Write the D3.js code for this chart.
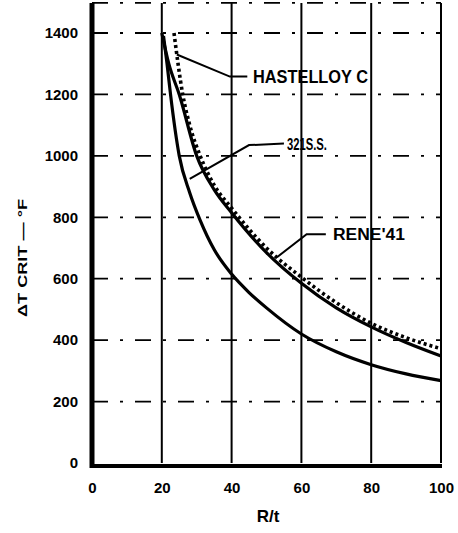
<!DOCTYPE html>
<html>
<head>
<meta charset="utf-8">
<script src="https://cdn.jsdelivr.net/npm/d3@7"></script>
<style>
  body { margin: 0; background: #fff; }
  svg { display: block; }
  .tick-label { font-family: "Liberation Sans", Arial, sans-serif; font-weight: bold; }
</style>
</head>
<body>
<script>
// Data
const xTicks = [0, 20, 40, 60, 80, 100];
const yTicks = [0, 200, 400, 600, 800, 1000, 1200, 1400];

const ss321 = [[20.5, 1390], [21.5, 1300], [22.5, 1200], [25, 1000], [28, 880], [31, 790], [35, 695],
               [40, 615], [45, 555], [50, 505], [60, 420], [70, 362], [80, 320], [90, 290], [100, 268]];
const rene41 = [[20, 1400], [22, 1300], [25, 1200], [30, 1000], [35, 890], [40, 815], [50, 685],
                [60, 585], [70, 505], [80, 443], [90, 392], [100, 348]];
const hastelloyC = [[23.5, 1400], [26, 1200], [28, 1100], [31, 1000], [35, 905], [40, 830], [50, 700],
                    [60, 605], [70, 522], [80, 455], [90, 408], [100, 372]];

const width = 458, height = 533;
const svg = d3.select('body').append('svg')
    .attr('width', width)
    .attr('height', height);

const x = d3.scaleLinear().domain([0, 100]).range([92, 441]);
const y = d3.scaleLinear().domain([0, 1400]).range([463, 33]);
const yTop = y(1498);

// vertical grid (solid)
svg.append('g')
    .selectAll('line')
    .data(xTicks.slice(1))
    .join('line')
    .attr('x1', d => x(d)).attr('x2', d => x(d))
    .attr('y1', yTop).attr('y2', y(0))
    .attr('stroke', '#000').attr('stroke-width', 2);

// horizontal grid (dash-dot)
svg.append('g')
    .selectAll('line')
    .data(yTicks.slice(1).concat([1498]))
    .join('line')
    .attr('x1', x(0)).attr('x2', x(100))
    .attr('y1', d => y(d)).attr('y2', d => y(d))
    .attr('stroke', '#000').attr('stroke-width', 1.8)
    .attr('stroke-dasharray', '16,12,3,12');

// axes
const yAxis = d3.axisLeft(y).tickValues(yTicks).tickFormat(d3.format('d')).tickSize(0).tickPadding(14);
svg.append('g')
    .attr('transform', `translate(${x(0)},0)`)
    .call(yAxis)
    .call(g => g.select('.domain').remove())
    .selectAll('text')
    .attr('class', 'tick-label')
    .attr('font-size', 15)
    .attr('fill', '#000');

const xAxis = d3.axisBottom(x).tickValues(xTicks).tickSize(0).tickPadding(19);
svg.append('g')
    .attr('transform', `translate(0,${y(0)})`)
    .call(xAxis)
    .call(g => g.select('.domain').remove())
    .selectAll('text')
    .attr('class', 'tick-label')
    .attr('font-size', 15)
    .attr('fill', '#000');

// heavy frame lines
svg.append('line')
    .attr('x1', x(0)).attr('x2', x(0))
    .attr('y1', yTop).attr('y2', y(0) + 5)
    .attr('stroke', '#000').attr('stroke-width', 5);
svg.append('line')
    .attr('x1', x(0) - 2).attr('x2', x(100) + 1)
    .attr('y1', y(0) + 3).attr('y2', y(0) + 3)
    .attr('stroke', '#000').attr('stroke-width', 4);

// curves
const line = d3.line()
    .x(d => x(d[0]))
    .y(d => y(d[1]))
    .curve(d3.curveMonotoneX);

svg.append('path').datum(ss321)
    .attr('d', line).attr('fill', 'none')
    .attr('stroke', '#000').attr('stroke-width', 3.2);
svg.append('path').datum(rene41)
    .attr('d', line).attr('fill', 'none')
    .attr('stroke', '#000').attr('stroke-width', 3.2);
svg.append('path').datum(hastelloyC)
    .attr('d', line).attr('fill', 'none')
    .attr('stroke', '#000').attr('stroke-width', 3.6)
    .attr('stroke-dasharray', '3,3');

// labels with leader lines
const labels = [
    { text: 'HASTELLOY C', pts: [[24.3, 1330], [39.5, 1258], [44.5, 1258]], tx: 253, ty: 83, w: 115, fs: 18 },
    { text: '321S.S.', pts: [[28, 925], [45, 1035], [55, 1040]], tx: 287, ty: 150, w: 40, fs: 17 },
    { text: "RENE'41", pts: [[53, 670], [61.5, 745], [67, 745]], tx: 333, ty: 240, w: 72, fs: 16 }
];
labels.forEach(l => {
    svg.append('path')
        .attr('d', d3.line().x(d => x(d[0])).y(d => y(d[1]))(l.pts))
        .attr('fill', 'none').attr('stroke', '#000').attr('stroke-width', 2);
    svg.append('text')
        .attr('x', l.tx).attr('y', l.ty)
        .attr('textLength', l.w).attr('lengthAdjust', 'spacingAndGlyphs')
        .attr('font-family', '"Liberation Sans", Arial, sans-serif')
        .attr('font-weight', 'bold')
        .attr('font-size', l.fs)
        .text(l.text);
});

// axis titles
svg.append('text')
    .attr('transform', 'translate(27,258) rotate(-90)')
    .attr('text-anchor', 'middle')
    .attr('font-family', '"Liberation Sans", Arial, sans-serif')
    .attr('font-weight', 'bold')
    .attr('font-size', 12)
    .attr('textLength', 118).attr('lengthAdjust', 'spacingAndGlyphs')
    .text('ΔT CRIT — °F');

svg.append('text')
    .attr('x', 268).attr('y', 522)
    .attr('text-anchor', 'middle')
    .attr('font-family', '"Liberation Sans", Arial, sans-serif')
    .attr('font-weight', 'bold')
    .attr('font-size', 17)
    .text('R/t');
</script>
</body>
</html>
